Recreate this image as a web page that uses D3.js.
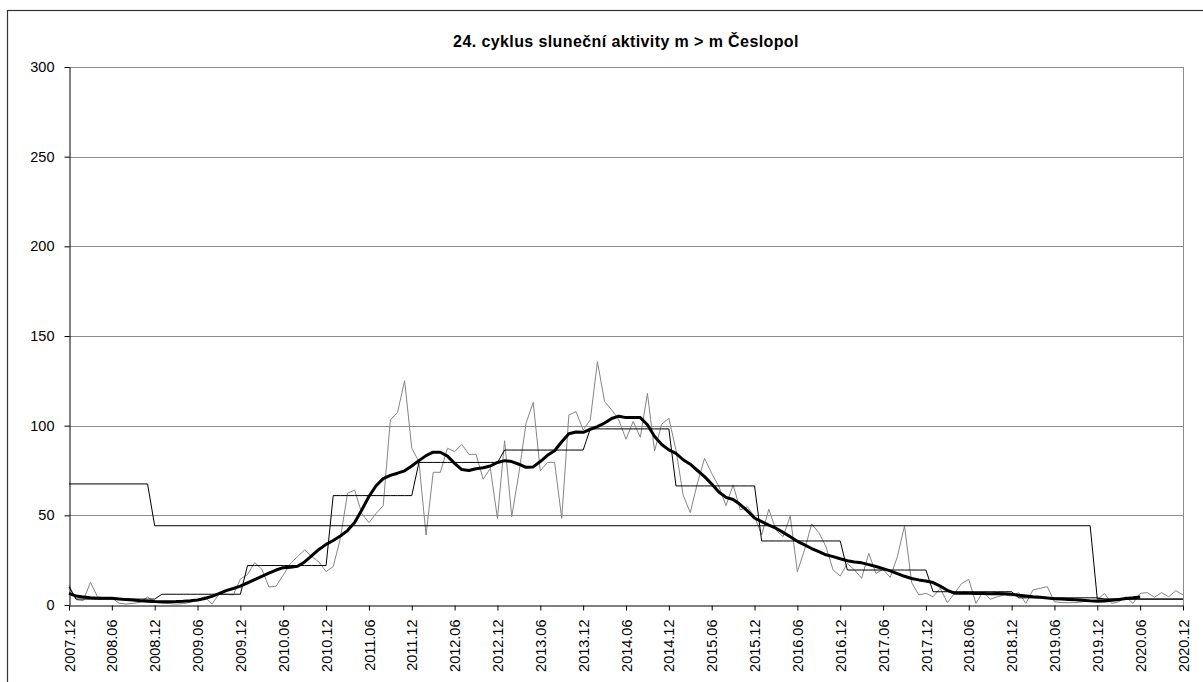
<!DOCTYPE html>
<html lang="cs">
<head>
<meta charset="UTF-8">
<title>24. cyklus</title>
<script src="https://cdn.jsdelivr.net/npm/d3@7"></script>
<style>
  body { margin: 0; background: #fff; }
  svg text { font-family: Arial, "Liberation Sans", sans-serif; }
</style>
</head>
<body>
<script>
// monthly values 2007.12 .. 2020.12
const monthly = [
  11,
  3, 2.4, 12.7, 4.5, 4, 4, 1, 0.5, 1, 1.5, 4.5, 1.5,
  1, 0.8, 0.5, 0.8, 1.5, 2.8, 4.6, 0.5, 6, 6, 5.6, 14.5,
  17, 23.6, 20, 10, 10.5, 16.7, 23, 27, 30.7, 27, 24, 18.6,
  21.4, 37, 62.3, 64.1, 51.1, 45.9, 51, 55.4, 103.2, 107.3, 125.1, 87.4,
  79.9, 39, 74, 74, 87.4, 85.5, 89.6, 84, 84, 70.1, 76.2, 48.3,
  91.6, 49.3, 73.4, 101.3, 113, 74.9, 79.4, 79.6, 48.3, 106, 107.8, 97.6,
  103.2, 135.7, 113.4, 108.8, 103.2, 92.4, 102.3, 93.5, 118, 85.9, 100.8, 104.1,
  86.4, 61.3, 51.5, 67.9, 81.8, 73.4, 66.2, 55.4, 67, 53, 54.8, 49.3,
  39, 53.4, 41.8, 38.1, 49.6, 18.6, 30.7, 45.2, 40.4, 32.6, 19.5, 16.2,
  23.2, 19.5, 14.9, 28.8, 17.6, 19.9, 15.4, 26.9, 44.1, 12.5, 5.6, 6.5,
  4.6, 9.3, 1.3, 6.5, 12, 14.3, 0.9, 7.4, 3.2, 4.6, 5.6, 5,
  6.9, 0.9, 8.4, 9.3, 10.2, 1.8, 1.3, 1.3, 1.3, 1.8, 2.8, 2.8,
  6.5, 0.9, 1.8, 4.6, 0.9, 6.5, 6.9, 4.3, 6.9, 4.6, 8, 5.6
];

// smoothed values 2007.12 .. 2020.06
const smoothed = [
  6.5,
  5, 4.5, 4, 3.8, 3.7, 3.7, 3.4, 3, 2.8, 2.4, 2.1, 1.9,
  1.8, 1.8, 1.9, 2.1, 2.4, 2.8, 3.6, 4.8, 6.3, 8, 9.2, 10.5,
  12.3, 14.2, 16, 17.8, 19.5, 20.8, 21, 21.6, 24, 27.5, 31, 33.8,
  36, 38.5, 41.5, 46, 53, 60.5, 66.5, 70.5, 72.3, 73.5, 74.8, 77.5,
  80.5, 83.3, 85.2, 85.2, 83, 79, 75.5, 75, 76, 76.5, 77.5, 79.5,
  80.5, 80, 78.5, 76.8, 77, 80, 83.5, 86, 91, 95.5, 96.5, 96.3,
  98, 99.5, 101.5, 104, 105.3, 104.5, 104.5, 104.5, 100.5, 94, 89.5, 86.5,
  84.6, 81, 78.5, 75, 71.6, 67.5, 63, 60, 58.8, 56, 52.5, 48.5,
  46.5, 44.5, 42.8, 40.5, 38, 35.5, 33.5, 31.5, 29.7, 28, 27, 25.8,
  24.7, 24, 23.5, 22.5, 21.5, 20.3, 19, 17.5, 16, 14.8, 14, 13.4,
  12.5, 10.5, 8.2, 6.6, 6.5, 6.5, 6.4, 6.4, 6.3, 6.4, 6.3, 6,
  5.4, 5, 4.6, 4.3, 3.9, 3.5, 3.3, 3.1, 2.9, 2.6, 2.3, 2.1,
  2.2, 2.6, 3.1, 3.6, 4, 4.5
];

// yearly means
const years = [2007, 2008, 2009, 2010, 2011, 2012, 2013, 2014, 2015, 2016, 2017, 2018, 2019, 2020];
const yearlyMeans = [10, 3.3, 6, 22, 61, 79.5, 86.4, 98.2, 66.4, 35.7, 19.5, 7.4, 4, 3.3];

// cycle means
const cycleFrom = ["2007.12", "2008.12", "2019.12"];
const cycleTo = ["2008.11", "2019.11", "2020.12"];
const cycleMeans = [67.5, 44.2, 3.3];

const tickLabels = [
  "2007.12", "2008.06", "2008.12", "2009.06", "2009.12", "2010.06", "2010.12",
  "2011.06", "2011.12", "2012.06", "2012.12", "2013.06", "2013.12", "2014.06",
  "2014.12", "2015.06", "2015.12", "2016.06", "2016.12", "2017.06", "2017.12",
  "2018.06", "2018.12", "2019.06", "2019.12", "2020.06", "2020.12"
];
const yTicks = [0, 50, 100, 150, 200, 250, 300];

const width = 1203, height = 682;
const plotLeft = 69, plotRight = 1183, plotTop = 67, plotBottom = 605;

// month index counted from 2007.12
function monthIndex(label) {
  const [yr, m] = label.split(".").map(Number);
  return (yr - 2007) * 12 + m - 12;
}

const svg = d3.select("body").append("svg")
  .attr("width", width)
  .attr("height", height);

// outer chart border
svg.append("rect")
  .attr("x", 7.5).attr("y", 10.5)
  .attr("width", 1300).attr("height", 800)
  .attr("fill", "none")
  .attr("stroke", "#333")
  .attr("stroke-width", 1.2);

const x = d3.scaleLinear().domain([0, monthly.length - 1]).range([plotLeft, plotRight]);
const y = d3.scaleLinear().domain([0, 300]).range([plotBottom, plotTop]);

// gridlines
svg.append("g")
  .selectAll("line")
  .data(yTicks.filter(d => d > 0))
  .enter().append("line")
  .attr("x1", plotLeft).attr("x2", plotRight)
  .attr("y1", d => Math.round(y(d)) + 0.5)
  .attr("y2", d => Math.round(y(d)) + 0.5)
  .attr("stroke", "#8c8c8c")
  .attr("stroke-width", 1);

// right plot edge
svg.append("line")
  .attr("x1", plotRight + 0.5).attr("x2", plotRight + 0.5)
  .attr("y1", plotTop).attr("y2", plotBottom)
  .attr("stroke", "#8c8c8c");

const line = d3.line()
  .x(d => x(d[0]))
  .y(d => y(d[1]));

// yearly step points
let yearlyPts = [];
years.forEach((yr, i) => {
  if (yr === 2007) {
    yearlyPts.push([0, yearlyMeans[i]]);
  } else {
    for (let m = 1; m <= 12; m++) {
      const idx = (yr - 2008) * 12 + m;
      if (idx < monthly.length) yearlyPts.push([idx, yearlyMeans[i]]);
    }
  }
});

// cycle step points
let cyclePts = [];
cycleMeans.forEach((v, i) => {
  cyclePts.push([monthIndex(cycleFrom[i]), v]);
  cyclePts.push([monthIndex(cycleTo[i]), v]);
});

svg.append("path")
  .datum(monthly.map((v, i) => [i, v]))
  .attr("d", line)
  .attr("fill", "none")
  .attr("stroke", "#858585")
  .attr("stroke-width", 1);

svg.append("path")
  .datum(cyclePts)
  .attr("d", line)
  .attr("fill", "none")
  .attr("stroke", "#000")
  .attr("stroke-width", 1);

svg.append("path")
  .datum(yearlyPts)
  .attr("d", line)
  .attr("fill", "none")
  .attr("stroke", "#000")
  .attr("stroke-width", 1);

svg.append("path")
  .datum(smoothed.map((v, i) => [i, v]))
  .attr("d", line)
  .attr("fill", "none")
  .attr("stroke", "#000")
  .attr("stroke-width", 3)
  .attr("stroke-linejoin", "round");

// y axis
const yAxis = svg.append("g")
  .attr("transform", `translate(${plotLeft + 0.5},0)`)
  .call(d3.axisLeft(y).tickValues(yTicks).tickSize(5).tickSizeOuter(0).tickPadding(10));
yAxis.selectAll("text").style("font-size", "14.5px").attr("fill", "#000");
yAxis.selectAll("line, path").attr("stroke", "#000");

// x axis
const xAxis = svg.append("g")
  .attr("transform", `translate(0,${plotBottom + 0.5})`)
  .call(d3.axisBottom(x)
    .tickValues(d3.range(0, monthly.length, 6))
    .tickFormat((d, i) => tickLabels[i])
    .tickSize(5).tickSizeOuter(0));
xAxis.selectAll("path, line").attr("stroke", "#000");
xAxis.selectAll("text")
  .style("font-size", "14.5px")
  .attr("fill", "#000")
  .attr("transform", "rotate(-90)")
  .attr("x", -14)
  .attr("y", 0)
  .attr("dy", "0.35em")
  .style("text-anchor", "end");

// title
svg.append("text")
  .attr("x", (plotLeft + plotRight) / 2)
  .attr("y", 47)
  .attr("text-anchor", "middle")
  .style("font-size", "16px")
  .style("letter-spacing", "0.4px")
  .style("font-weight", "bold")
  .text("24. cyklus sluneční aktivity m > m Česlopol");
</script>
</body>
</html>
